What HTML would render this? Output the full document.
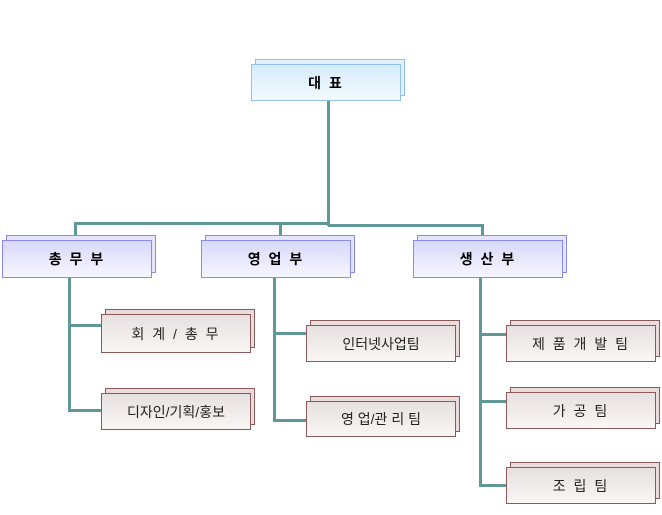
<!DOCTYPE html>
<html><head><meta charset="utf-8"><style>
body{margin:0;width:662px;height:515px;background:#fff;position:relative;overflow:hidden;font-family:"Liberation Sans","Noto Sans CJK KR","NanumGothic",sans-serif}
.l{position:absolute;background:#5f9896}
.b{position:absolute}
.b .bk{position:absolute;left:4px;top:-5px;right:-4px;bottom:5px;border:1px solid}
.b .fr{position:absolute;left:0;top:0;right:0;bottom:0;border:1px solid;display:flex;align-items:center;justify-content:center;font-size:14px;letter-spacing:2px}
.p .bk{border-color:#8a8aee;background:#e4e4fa}
.p .fr{border-color:#8a8aee;background:linear-gradient(#d8d8fa,#f6f6ff);font-weight:bold;color:#000}
.t .bk{border-color:#8fc0ee;background:#e0f0fc}
.t .fr{border-color:#8fc0ee;background:linear-gradient(#d4ebfb,#f4faff);font-weight:bold}
.r .bk{border-color:#8a5a5a;background:#eadcdc}
.r .fr{border-color:#8a5a5a;background:linear-gradient(#e6e0e0,#faf6f6);color:#222}
</style></head><body>
<div class="l" style="left:327px;top:100px;width:3px;height:126px"></div>
<div class="l" style="left:74px;top:222px;width:256px;height:3px"></div>
<div class="l" style="left:328px;top:224px;width:156px;height:3px"></div>
<div class="l" style="left:74px;top:222px;width:3px;height:18px"></div>
<div class="l" style="left:279px;top:222px;width:3px;height:18px"></div>
<div class="l" style="left:481px;top:224px;width:3px;height:16px"></div>
<div class="l" style="left:68px;top:278px;width:3px;height:134px"></div>
<div class="l" style="left:68px;top:324px;width:34px;height:3px"></div>
<div class="l" style="left:68px;top:409px;width:34px;height:3px"></div>
<div class="l" style="left:273px;top:278px;width:3px;height:144px"></div>
<div class="l" style="left:273px;top:332px;width:34px;height:3px"></div>
<div class="l" style="left:273px;top:419px;width:34px;height:3px"></div>
<div class="l" style="left:479px;top:278px;width:3px;height:209px"></div>
<div class="l" style="left:479px;top:333px;width:28px;height:3px"></div>
<div class="l" style="left:479px;top:400px;width:28px;height:3px"></div>
<div class="l" style="left:479px;top:484px;width:28px;height:3px"></div>

<div class="b t" style="left:251px;top:64px;width:150px;height:37px"><div class="bk"></div><div class="fr">대 표</div></div>
<div class="b p" style="left:2px;top:240px;width:150px;height:38px"><div class="bk"></div><div class="fr">총 무 부</div></div>
<div class="b p" style="left:201px;top:240px;width:150px;height:38px"><div class="bk"></div><div class="fr">영 업 부</div></div>
<div class="b p" style="left:413px;top:240px;width:150px;height:38px"><div class="bk"></div><div class="fr">생 산 부</div></div>

<div class="b r" style="left:101px;top:314px;width:150px;height:39px"><div class="bk"></div><div class="fr">회 계 / 총 무</div></div>
<div class="b r" style="left:101px;top:393px;width:150px;height:37px"><div class="bk"></div><div class="fr" style="letter-spacing:0">디자인/기획/홍보</div></div>
<div class="b r" style="left:306px;top:325px;width:150px;height:37px"><div class="bk"></div><div class="fr" style="letter-spacing:0">인터넷사업팀</div></div>
<div class="b r" style="left:306px;top:401px;width:150px;height:36px"><div class="bk"></div><div class="fr" style="letter-spacing:0">영 업/관 리 팀</div></div>
<div class="b r" style="left:506px;top:325px;width:150px;height:37px"><div class="bk"></div><div class="fr">제 품 개 발 팀</div></div>
<div class="b r" style="left:506px;top:392px;width:150px;height:37px"><div class="bk"></div><div class="fr">가 공 팀</div></div>
<div class="b r" style="left:506px;top:467px;width:150px;height:37px"><div class="bk"></div><div class="fr">조 립 팀</div></div>
</body></html>
